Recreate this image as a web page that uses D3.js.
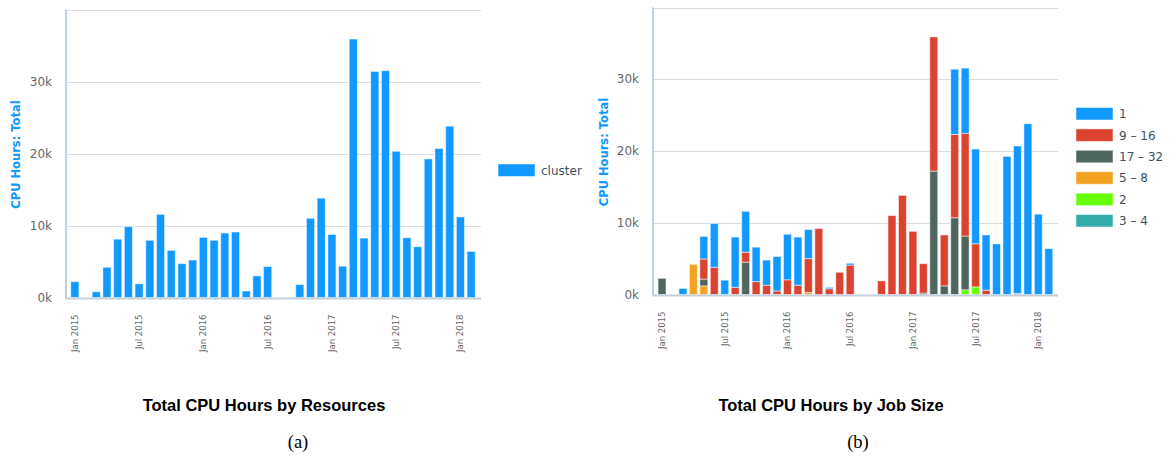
<!DOCTYPE html>
<html><head><meta charset="utf-8">
<script src="https://cdn.jsdelivr.net/npm/d3@7/dist/d3.min.js"></script>
<style>body{margin:0;background:#fff} svg{display:block}</style>
</head><body>
<svg id="c" width="1173" height="459"></svg>
<script>
// ---------- DATA ----------
const months = ["2015-01","2015-02","2015-03","2015-04","2015-05","2015-06","2015-07","2015-08","2015-09","2015-10","2015-11","2015-12",
  "2016-01","2016-02","2016-03","2016-04","2016-05","2016-06","2016-07","2016-08","2016-09","2016-10","2016-11","2016-12",
  "2017-01","2017-02","2017-03","2017-04","2017-05","2017-06","2017-07","2017-08","2017-09","2017-10","2017-11","2017-12",
  "2018-01","2018-02"];
const tickMonths = ["2015-01","2015-07","2016-01","2016-07","2017-01","2017-07","2018-01"];
const tickLabels = ["Jan 2015","Jul 2015","Jan 2016","Jul 2016","Jan 2017","Jul 2017","Jan 2018"];
const yTicks = [0,10000,20000,30000,40000];
const yTickLabels = ["0k","10k","20k","30k",""];

// Panel (a): CPU hours by resource
const clusterHours = [2200,0,800,4200,8100,9850,1900,7950,11550,6550,4700,5200,
  8350,7950,8950,9100,900,3000,4300,0,0,1800,11000,13800,
  8750,4350,35900,8250,31400,31500,20300,8300,7050,19250,20700,23800,
  11200,6400];

// Panel (b): CPU hours by job size
const sizeKeys = ["1","9 – 16","17 – 32","5 – 8","2","3 – 4"];
const sizeColors = ["#1199FF","#DB4230","#4E665D","#F4A221","#66FF00","#33ABAB"];
const size1 = [0,0,850,0,3150,6100,2000,7000,5700,4800,3500,4800,
  6350,6700,4050,0,200,0,250,0,0,0,0,0,
  0,0,0,0,9100,9100,13200,7700,7050,19250,20550,23800,
  11200,6400];
const size9to16 = [0,0,0,0,2800,3800,0,1000,1400,1800,1300,500,
  2050,1300,4700,9200,800,3100,4100,0,0,1900,11000,13800,
  8800,4100,18700,7100,11600,14300,6000,600,0,0,150,0,
  0,0];
const size17to32 = [2250,0,0,0,950,0,0,0,4500,0,0,0,
  0,0,0,0,0,0,0,0,0,0,0,0,
  0,200,17200,1200,10700,7500,0,0,0,0,0,0,
  0,0];
const size5to8 = [0,0,0,4200,1200,0,0,0,0,0,0,0,
  0,0,300,0,0,0,0,0,0,0,0,0,
  0,0,0,0,0,0,0,0,0,0,0,0,
  0,0];
const size2 = [0,0,0,0,0,0,0,0,0,0,0,0,
  0,0,0,0,0,0,0,0,0,0,0,0,
  0,0,0,0,0,650,1070,0,0,0,0,0,
  0,0];
const size3to4 = [0,0,0,0,0,0,0,0,0,0,0,0,
  0,0,0,0,0,0,0,0,0,0,0,0,
  0,0,0,0,0,0,0,0,0,0,0,0,
  0,0];

// ---------- DRAW ----------
const svg = d3.select("#c");
const BLUE = "#1199FF";

function panel(o) {
  const g = svg.append("g");
  const x = d3.scaleBand().domain(months).range([o.bx0, o.bx1]).paddingInner(0.24).paddingOuter(0.12);
  const y = d3.scaleLinear().domain([0, 40000]).range([o.y1, o.y0]);

  // grid lines
  g.append("g").selectAll("line").data(yTicks.slice(1)).join("line")
    .attr("x1", o.x0).attr("x2", o.x1)
    .attr("y1", d => Math.round(y(d)) + 0.5).attr("y2", d => Math.round(y(d)) + 0.5)
    .attr("stroke", "#dcdcdc").attr("stroke-width", 1);

  // y tick labels
  g.append("g").selectAll("text").data(yTicks).join("text")
    .attr("x", o.x0 - 14).attr("y", d => y(d)).attr("dy", "0.35em")
    .attr("text-anchor", "end")
    .attr("font-family", "DejaVu Sans, sans-serif").attr("font-size", 12)
    .attr("fill", "#666").text((d, i) => yTickLabels[i]);

  // y axis title
  g.append("text")
    .attr("transform", `translate(${o.ytx},${(o.y0 + o.y1) / 2 + 1}) rotate(-90)`)
    .attr("text-anchor", "middle").attr("dy", "0.35em")
    .attr("font-family", "DejaVu Sans, sans-serif").attr("font-weight", "bold")
    .attr("font-size", 11.5).attr("fill", BLUE).text("CPU Hours: Total");

  // bars
  o.drawBars(g, x, y);

  // axis lines
  g.append("line").attr("x1", o.x0).attr("x2", o.x0).attr("y1", o.y0).attr("y2", o.y1 + 1)
    .attr("stroke", "#C0D0E0").attr("stroke-width", 2);
  g.append("line").attr("x1", o.x0).attr("x2", o.x1).attr("y1", o.y1 + 1).attr("y2", o.y1 + 1)
    .attr("stroke", "#C0D0E0").attr("stroke-width", 2);

  // x tick labels
  g.append("g").selectAll("text").data(tickMonths).join("text")
    .attr("transform", d => `translate(${x(d) + x.bandwidth() / 2},${o.y1 + 17}) rotate(-90)`)
    .attr("text-anchor", "end").attr("dy", "0.35em")
    .attr("font-family", "DejaVu Sans, sans-serif").attr("font-size", 8.5)
    .attr("fill", "#666").text((d, i) => tickLabels[i]);

  // chart title
  g.append("text").attr("x", o.tx).attr("y", 411).attr("text-anchor", "middle")
    .attr("font-family", "Liberation Sans, Arial, sans-serif").attr("font-weight", "bold")
    .attr("font-size", 16.5).attr("fill", "#000").text(o.title);

  // caption
  g.append("text").attr("x", o.cx).attr("y", 448).attr("text-anchor", "middle")
    .attr("font-family", "Liberation Serif, Times New Roman, serif")
    .attr("font-size", 18.5).attr("fill", "#000").text(o.caption);

  // legend
  const lg = g.append("g").selectAll("g").data(o.legend).join("g")
    .attr("transform", (d, i) => `translate(${o.lx},${o.ly + i * 21.4})`);
  lg.append("rect").attr("width", 37).attr("height", 12.5).attr("fill", d => d.color)
    .attr("stroke", "#fff").attr("stroke-opacity", 0.5);
  lg.append("text").attr("x", 43).attr("y", 6.5).attr("dy", "0.35em")
    .attr("font-family", "DejaVu Sans, sans-serif").attr("font-size", 12)
    .attr("fill", "#3e4f63").text(d => d.name);
}

// Panel (a)
panel({
  x0: 66, x1: 481, y0: 9.5, y1: 297.5, bx0: 69.5, bx1: 476.5, ytx: 16,
  title: "Total CPU Hours by Resources", tx: 264, caption: "(a)", cx: 298,
  legend: [{name: "cluster", color: BLUE}], lx: 498, ly: 164,
  drawBars: (g, x, y) => {
    g.append("g").selectAll("rect").data(months.map((m, i) => ({m, v: clusterHours[i]})).filter(d => d.v > 0))
      .join("rect")
      .attr("x", d => x(d.m)).attr("width", x.bandwidth())
      .attr("y", d => y(d.v)).attr("height", d => y(0) - y(d.v))
      .attr("fill", BLUE).attr("stroke", "#fff").attr("stroke-opacity", 0.5).attr("stroke-width", 1);
  }
});

// Panel (b)
const sizeSeries = [size1, size9to16, size17to32, size5to8, size2, size3to4];
const rows = months.map((m, i) => {
  const r = {m};
  sizeKeys.forEach((k, j) => r[k] = sizeSeries[j][i]);
  return r;
});
const colorOf = d3.scaleOrdinal().domain(sizeKeys).range(sizeColors);
panel({
  x0: 653, x1: 1058, y0: 7.5, y1: 294.5, bx0: 656.8, bx1: 1054, ytx: 604,
  title: "Total CPU Hours by Job Size", tx: 831, caption: "(b)", cx: 858,
  legend: sizeKeys.map(k => ({name: k, color: colorOf(k)})), lx: 1076, ly: 107.5,
  drawBars: (g, x, y) => {
    const stack = d3.stack().keys(sizeKeys.slice().reverse())(rows);
    g.append("g").selectAll("g").data(stack).join("g").attr("fill", d => colorOf(d.key))
      .selectAll("rect").data(d => d.filter(s => s[1] - s[0] > 0)).join("rect")
      .attr("x", d => x(d.data.m)).attr("width", x.bandwidth())
      .attr("y", d => y(d[1])).attr("height", d => y(d[0]) - y(d[1]))
      .attr("stroke", "#fff").attr("stroke-opacity", 0.5).attr("stroke-width", 1);
  }
});
</script>
</body></html>
